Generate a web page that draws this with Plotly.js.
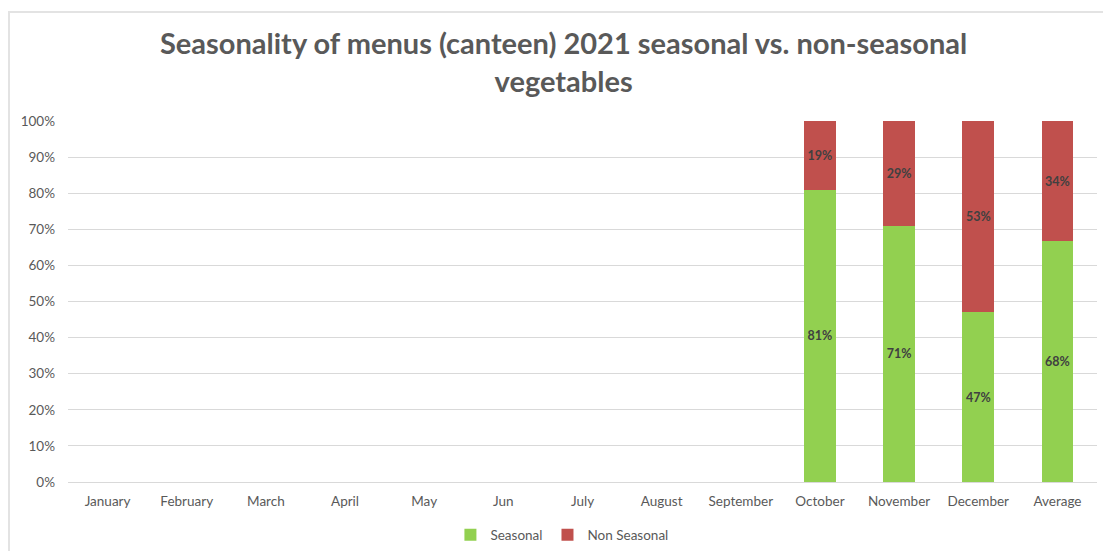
<!DOCTYPE html>
<html>
<head>
<meta charset="utf-8">
<script src="https://cdn.plot.ly/plotly-3.0.1.min.js"></script>
<style>
html,body{margin:0;padding:0;background:#fff;}
#frame{position:absolute;left:8px;top:11px;width:1095px;height:540px;border-top:2px solid #e3e3e3;border-left:2px solid #e3e3e3;box-sizing:border-box;pointer-events:none;}
#chart{position:absolute;left:0;top:0;width:1103px;height:551px;}
</style>
</head>
<body>
<div id="chart"></div>
<div id="frame"></div>
<script>
const months = ["January","February","March","April","May","Jun","July","August","September","October","November","December","Average"];
const seasonal = [null,null,null,null,null,null,null,null,null,81,71,47,68];
const nonSeasonal = [null,null,null,null,null,null,null,null,null,19,29,53,34];
const seriesNames = ["Seasonal","Non Seasonal"];
const seriesColors = ["#92D050","#C0504D"];

const fontFam = "Lato, 'Open Sans', sans-serif";
function labels(arr){ return arr.map(v => v == null ? "" : "<b>" + v + "%</b>"); }

const traces = [seasonal, nonSeasonal].map((vals, i) => ({
  type: "bar",
  name: seriesNames[i],
  x: months,
  y: vals,
  text: labels(vals),
  textposition: "inside",
  insidetextanchor: "middle",
  textangle: 0,
  constraintext: "none",
  textfont: {family: fontFam, size: 12.5, color: "#404040"},
  marker: {color: seriesColors[i]},
  hoverinfo: "skip"
}));

const layout = {
  width: 1103, height: 551,
  margin: {l: 68, r: 6, t: 121, b: 69, autoexpand: false},
  paper_bgcolor: "#ffffff", plot_bgcolor: "#ffffff",
  barmode: "stack",
  barnorm: "percent",
  bargap: 0.6,
  font: {family: fontFam, color: "#595959", size: 13},
  title: {
    text: "Seasonality of menus (canteen) 2021 seasonal vs. non-seasonal<br>vegetables",
    font: {family: fontFam, size: 29, color: "#595959", weight: "bold"},
    x: 0.511, xanchor: "center", xref: "container",
    y: 0.902, yanchor: "middle", yref: "container"
  },
  xaxis: {
    type: "category",
    showgrid: false, zeroline: false,
    showline: false, ticks: "",
    ticklabelstandoff: 9,
    tickfont: {family: fontFam, size: 13.5, color: "#595959"},
    fixedrange: true
  },
  yaxis: {
    range: [0, 100],
    dtick: 10,
    ticksuffix: "%",
    showgrid: true, gridcolor: "#D9D9D9", gridwidth: 1,
    zeroline: true, zerolinecolor: "#D9D9D9", zerolinewidth: 1,
    showline: false, ticks: "",
    ticklabelstandoff: 12,
    tickfont: {family: fontFam, size: 13.5, color: "#595959"},
    fixedrange: true
  },
  showlegend: true,
  legend: {
    orientation: "h",
    x: 0.48, xanchor: "center",
    y: 0.029, yanchor: "middle", yref: "container",
    font: {family: fontFam, size: 13.5, color: "#595959"},
    itemwidth: 30,
    traceorder: "normal"
  }
};

Plotly.newPlot("chart", traces, layout, {displayModeBar: false, staticPlot: true});
</script>
</body>
</html>
